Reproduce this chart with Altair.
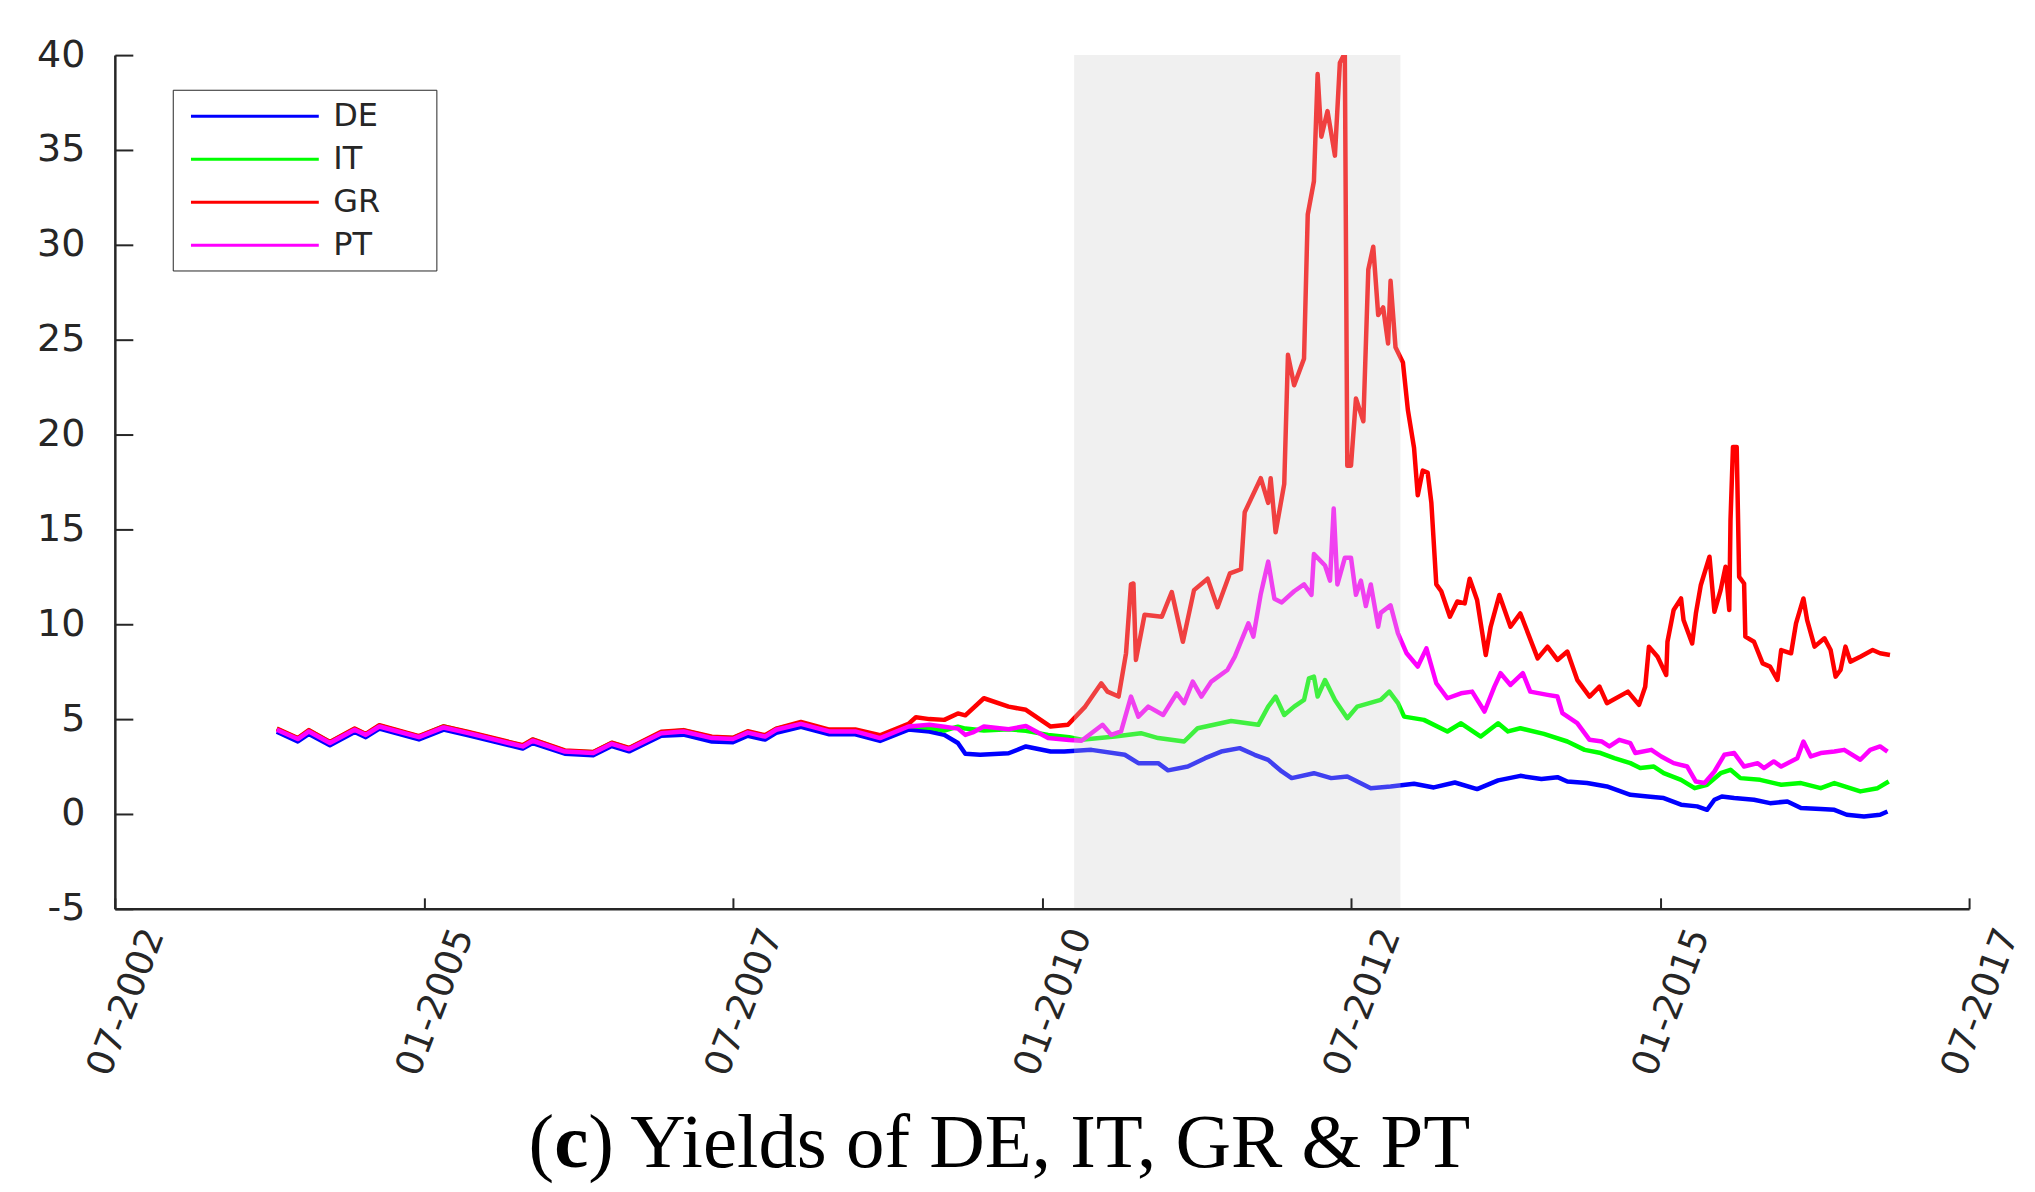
import altair as alt
import pandas as pd

# ---------------- data (decimal year, yield %) ----------------
de = [(2003.81, 4.33), (2003.98, 3.82), (2004.07, 4.22), (2004.24, 3.62), (2004.44, 4.32),
      (2004.53, 4.05), (2004.64, 4.50), (2004.96, 3.93), (2005.16, 4.45), (2005.36, 4.14),
      (2005.80, 3.45), (2005.88, 3.74), (2006.14, 3.18), (2006.37, 3.10), (2006.52, 3.58),
      (2006.66, 3.30), (2006.92, 4.12), (2007.10, 4.18), (2007.33, 3.82), (2007.50, 3.78),
      (2007.62, 4.12), (2007.76, 3.92), (2007.85, 4.28), (2008.05, 4.60), (2008.28, 4.20),
      (2008.49, 4.20), (2008.69, 3.85), (2008.92, 4.45), (2009.09, 4.35), (2009.21, 4.17),
      (2009.32, 3.74), (2009.38, 3.17), (2009.50, 3.12), (2009.73, 3.20), (2009.87, 3.56),
      (2010.07, 3.29), (2010.18, 3.29), (2010.40, 3.38), (2010.67, 3.12), (2010.78, 2.68),
      (2010.94, 2.68), (2011.02, 2.30), (2011.18, 2.50), (2011.32, 2.94), (2011.45, 3.29),
      (2011.60, 3.47), (2011.72, 3.12), (2011.83, 2.85), (2011.94, 2.24), (2012.02, 1.89),
      (2012.20, 2.15), (2012.34, 1.89), (2012.47, 1.98), (2012.66, 1.36), (2012.82, 1.45),
      (2013.01, 1.59), (2013.17, 1.40), (2013.34, 1.66), (2013.52, 1.31), (2013.69, 1.77),
      (2013.87, 2.01), (2014.04, 1.84), (2014.17, 1.94), (2014.25, 1.71), (2014.41, 1.63),
      (2014.57, 1.45), (2014.76, 1.01), (2014.90, 0.92), (2015.03, 0.84), (2015.17, 0.49),
      (2015.30, 0.40), (2015.38, 0.22), (2015.44, 0.75), (2015.50, 0.92), (2015.60, 0.84),
      (2015.76, 0.75), (2015.89, 0.57), (2016.03, 0.66), (2016.14, 0.31), (2016.30, 0.26),
      (2016.41, 0.22), (2016.51, -0.04), (2016.65, -0.13), (2016.78, -0.04), (2016.84, 0.13)]

it = [(2003.81, 4.48), (2003.98, 3.98), (2004.07, 4.40), (2004.24, 3.78), (2004.44, 4.48),
      (2004.53, 4.20), (2004.64, 4.66), (2004.96, 4.08), (2005.16, 4.62), (2005.36, 4.30),
      (2005.80, 3.60), (2005.88, 3.92), (2006.14, 3.32), (2006.37, 3.25), (2006.52, 3.74),
      (2006.66, 3.46), (2006.92, 4.30), (2007.10, 4.40), (2007.33, 4.04), (2007.50, 4.00),
      (2007.62, 4.33), (2007.76, 4.12), (2007.85, 4.48), (2008.05, 4.80), (2008.28, 4.40),
      (2008.49, 4.40), (2008.69, 4.05), (2008.92, 4.65), (2009.09, 4.55), (2009.21, 4.40),
      (2009.32, 4.60), (2009.38, 4.50), (2009.53, 4.40), (2009.73, 4.47), (2009.87, 4.38),
      (2010.05, 4.17), (2010.22, 4.05), (2010.32, 3.91), (2010.59, 4.08), (2010.80, 4.26),
      (2010.94, 4.00), (2011.15, 3.82), (2011.26, 4.52), (2011.53, 4.90), (2011.75, 4.70),
      (2011.83, 5.66), (2011.89, 6.19), (2011.96, 5.22), (2012.04, 5.66), (2012.12, 6.01),
      (2012.16, 7.15), (2012.20, 7.24), (2012.23, 6.19), (2012.29, 7.06), (2012.37, 6.01),
      (2012.47, 5.05), (2012.55, 5.66), (2012.74, 6.01), (2012.81, 6.45), (2012.88, 5.84),
      (2012.93, 5.13), (2013.09, 4.96), (2013.28, 4.35), (2013.39, 4.78), (2013.55, 4.08),
      (2013.69, 4.78), (2013.77, 4.35), (2013.87, 4.52), (2014.06, 4.22), (2014.25, 3.82),
      (2014.39, 3.38), (2014.52, 3.21), (2014.63, 2.94), (2014.76, 2.68), (2014.84, 2.42),
      (2014.95, 2.50), (2015.03, 2.15), (2015.17, 1.80), (2015.28, 1.36), (2015.38, 1.54),
      (2015.49, 2.15), (2015.57, 2.33), (2015.65, 1.89), (2015.81, 1.80), (2015.98, 1.54),
      (2016.14, 1.63), (2016.30, 1.36), (2016.41, 1.63), (2016.62, 1.19), (2016.76, 1.36),
      (2016.85, 1.71)]

gr = [(2003.81, 4.50), (2003.98, 4.00), (2004.07, 4.42), (2004.24, 3.80), (2004.44, 4.50),
      (2004.53, 4.22), (2004.64, 4.68), (2004.96, 4.10), (2005.16, 4.62), (2005.36, 4.32),
      (2005.80, 3.62), (2005.88, 3.93), (2006.14, 3.35), (2006.37, 3.27), (2006.52, 3.76),
      (2006.66, 3.48), (2006.92, 4.33), (2007.10, 4.42), (2007.33, 4.07), (2007.50, 4.02),
      (2007.62, 4.36), (2007.76, 4.15), (2007.85, 4.50), (2008.05, 4.85), (2008.28, 4.45),
      (2008.49, 4.45), (2008.69, 4.15), (2008.92, 4.75), (2008.98, 5.10), (2009.09, 5.00),
      (2009.21, 4.96), (2009.32, 5.30), (2009.38, 5.20), (2009.53, 6.10), (2009.73, 5.66),
      (2009.87, 5.49), (2010.07, 4.61), (2010.21, 4.70), (2010.35, 5.66), (2010.48, 6.89),
      (2010.53, 6.45), (2010.62, 6.19), (2010.68, 8.47), (2010.72, 12.10), (2010.74, 12.15),
      (2010.76, 8.12), (2010.83, 10.50), (2010.97, 10.40), (2011.05, 11.70), (2011.14, 9.08),
      (2011.23, 11.80), (2011.34, 12.40), (2011.42, 10.90), (2011.52, 12.68), (2011.61, 12.90),
      (2011.64, 15.90), (2011.77, 17.70), (2011.83, 16.40), (2011.85, 17.70), (2011.89, 14.85),
      (2011.96, 17.40), (2011.99, 24.20), (2012.04, 22.60), (2012.12, 24.00), (2012.15, 31.60),
      (2012.20, 33.35), (2012.23, 39.00), (2012.26, 35.70), (2012.31, 37.05), (2012.37, 34.70),
      (2012.41, 39.60), (2012.45, 40.10), (2012.47, 18.36), (2012.50, 18.36), (2012.54, 21.90),
      (2012.60, 20.70), (2012.64, 28.70), (2012.68, 29.90), (2012.72, 26.30), (2012.76, 26.70),
      (2012.80, 24.80), (2012.82, 28.10), (2012.86, 24.60), (2012.92, 23.80), (2012.96, 21.30),
      (2013.01, 19.30), (2013.04, 16.80), (2013.08, 18.10), (2013.12, 18.00), (2013.15, 16.40),
      (2013.19, 12.10), (2013.23, 11.74), (2013.30, 10.40), (2013.36, 11.20), (2013.42, 11.10),
      (2013.46, 12.40), (2013.52, 11.28), (2013.59, 8.38), (2013.63, 9.87), (2013.70, 11.54),
      (2013.79, 9.87), (2013.87, 10.57), (2014.01, 8.20), (2014.09, 8.82), (2014.17, 8.12),
      (2014.25, 8.56), (2014.33, 7.07), (2014.43, 6.19), (2014.51, 6.71), (2014.57, 5.84),
      (2014.74, 6.45), (2014.83, 5.75), (2014.88, 6.71), (2014.91, 8.82), (2014.98, 8.29),
      (2015.05, 7.33), (2015.06, 9.08), (2015.11, 10.75), (2015.17, 11.36), (2015.19, 10.22),
      (2015.26, 8.99), (2015.29, 10.57), (2015.33, 12.07), (2015.40, 13.56), (2015.44, 10.66),
      (2015.49, 11.80), (2015.53, 13.03), (2015.56, 10.75), (2015.57, 15.50), (2015.59, 19.35),
      (2015.62, 19.35), (2015.64, 12.50), (2015.68, 12.15), (2015.69, 9.35), (2015.76, 9.08),
      (2015.83, 7.94), (2015.89, 7.77), (2015.95, 7.07), (2015.98, 8.64), (2016.06, 8.47),
      (2016.10, 10.05), (2016.16, 11.36), (2016.19, 10.22), (2016.25, 8.82), (2016.33, 9.26),
      (2016.38, 8.64), (2016.42, 7.24), (2016.46, 7.59), (2016.50, 8.82), (2016.54, 8.03),
      (2016.62, 8.29), (2016.72, 8.64), (2016.78, 8.47), (2016.86, 8.38)]

pt = [(2003.81, 4.44), (2003.98, 3.95), (2004.07, 4.35), (2004.24, 3.74), (2004.44, 4.44),
      (2004.53, 4.17), (2004.64, 4.61), (2004.96, 4.05), (2005.16, 4.56), (2005.36, 4.26),
      (2005.80, 3.56), (2005.88, 3.86), (2006.14, 3.29), (2006.37, 3.21), (2006.52, 3.70),
      (2006.66, 3.42), (2006.92, 4.26), (2007.10, 4.35), (2007.33, 4.00), (2007.50, 3.95),
      (2007.62, 4.29), (2007.76, 4.08), (2007.85, 4.44), (2008.05, 4.75), (2008.28, 4.35),
      (2008.49, 4.35), (2008.69, 4.00), (2008.92, 4.61), (2009.09, 4.70), (2009.21, 4.60),
      (2009.32, 4.50), (2009.38, 4.17), (2009.44, 4.30), (2009.53, 4.61), (2009.73, 4.47),
      (2009.87, 4.64), (2010.05, 4.00), (2010.22, 3.90), (2010.32, 3.86), (2010.49, 4.70),
      (2010.56, 4.17), (2010.64, 4.35), (2010.72, 6.19), (2010.78, 5.13), (2010.86, 5.66),
      (2010.98, 5.22), (2011.09, 6.36), (2011.15, 5.84), (2011.22, 6.98), (2011.29, 6.19),
      (2011.37, 6.98), (2011.50, 7.59), (2011.56, 8.29), (2011.67, 10.05), (2011.71, 9.35),
      (2011.77, 11.60), (2011.83, 13.30), (2011.88, 11.35), (2011.94, 11.15), (2012.04, 11.74),
      (2012.12, 12.10), (2012.18, 11.55), (2012.20, 13.70), (2012.29, 13.10), (2012.33, 12.30),
      (2012.36, 16.10), (2012.39, 12.10), (2012.45, 13.50), (2012.50, 13.50), (2012.54, 11.55),
      (2012.58, 12.30), (2012.62, 10.96), (2012.66, 12.10), (2012.72, 9.87), (2012.74, 10.60),
      (2012.82, 11.00), (2012.88, 9.52), (2012.95, 8.47), (2013.04, 7.77), (2013.11, 8.73),
      (2013.19, 6.89), (2013.28, 6.10), (2013.39, 6.36), (2013.48, 6.45), (2013.58, 5.40),
      (2013.66, 6.71), (2013.71, 7.42), (2013.79, 6.80), (2013.89, 7.42), (2013.95, 6.45),
      (2014.09, 6.28), (2014.17, 6.19), (2014.21, 5.31), (2014.33, 4.79), (2014.43, 3.91),
      (2014.53, 3.82), (2014.59, 3.56), (2014.67, 3.91), (2014.76, 3.73), (2014.80, 3.21),
      (2014.93, 3.38), (2015.01, 3.03), (2015.11, 2.68), (2015.22, 2.50), (2015.29, 1.71),
      (2015.36, 1.63), (2015.44, 2.24), (2015.52, 3.12), (2015.60, 3.21), (2015.68, 2.50),
      (2015.79, 2.68), (2015.84, 2.42), (2015.92, 2.77), (2015.98, 2.50), (2016.11, 2.94),
      (2016.16, 3.82), (2016.22, 3.03), (2016.30, 3.21), (2016.41, 3.29), (2016.49, 3.38),
      (2016.62, 2.86), (2016.70, 3.38), (2016.78, 3.56), (2016.84, 3.29)]

countries = ["DE", "IT", "GR", "PT"]
colors = ["#0000ff", "#00ff00", "#ff0000", "#ff00ff"]

x_ticks = [2002.5, 2005.0, 2007.5, 2010.0, 2012.5, 2015.0, 2017.5]
x_tick_labels = ["07-2002", "01-2005", "07-2007", "01-2010", "07-2012", "01-2015", "07-2017"]
y_ticks = [-5, 0, 5, 10, 15, 20, 25, 30, 35, 40]

shade_start = [2010.26]
shade_end = [2012.90]
shade_low = [-5]
shade_high = [40]

caption_parts = ["(", "c", ") Yields of DE, IT, GR & PT"]

# ---------------- tables ----------------
rows = []
for name, series in zip(countries, [de, it, gr, pt]):
    for t, v in series:
        rows.append({"country": name, "year": t, "yield": v})
df = pd.DataFrame(rows)

shade_df = pd.DataFrame({"start": shade_start, "end": shade_end,
                         "low": shade_low, "high": shade_high})

W, H = 1857, 855
INK = "#262626"

xscale = alt.Scale(domain=[x_ticks[0], x_ticks[-1]], nice=False, zero=False)
yscale = alt.Scale(domain=[y_ticks[0], y_ticks[-1]], nice=False, zero=False)

label_expr = " : ".join(
    f"datum.value == {v} ? '{lab}'" for v, lab in zip(x_ticks, x_tick_labels)
) + " : ''"

lines = alt.Chart(df).mark_line(strokeWidth=4.5, clip=True, strokeJoin="round").encode(
    x=alt.X("year:Q", scale=xscale,
            axis=alt.Axis(orient="bottom", values=x_ticks, labelExpr=label_expr,
                          labelAngle=-69, labelAlign="right", labelBaseline="middle",
                          labelPadding=21, labelOffset=39, labelFlush=False,
                          labelOverlap=False, ticks=False, tickSize=0, grid=False,
                          title=None, labelFont="DejaVu Sans", labelFontSize=37,
                          labelColor=INK, domainColor=INK, domainWidth=2.5, zindex=1)),
    y=alt.Y("yield:Q", scale=yscale,
            axis=alt.Axis(orient="left", values=y_ticks, labelExpr="'' + datum.value",
                          labelPadding=30, labelFlush=False, labelOverlap=False,
                          ticks=False, tickSize=0, grid=False, title=None,
                          labelFont="DejaVu Sans", labelFontSize=38, labelColor=INK,
                          domainColor=INK, domainWidth=2.5, zindex=1)),
    color=alt.Color("country:N",
                    scale=alt.Scale(domain=countries, range=colors),
                    legend=alt.Legend(title=None, orient="none", legendX=58, legendY=34.7,
                                      symbolType="M-4,0L4,0", symbolSize=1024,
                                      symbolStrokeWidth=3, symbolOffset=55.75,
                                      labelOffset=61, labelFont="DejaVu Sans",
                                      labelFontSize=32, labelColor=INK,
                                      rowPadding=9.1, padding=9,
                                      strokeColor=INK, fillColor="white",
                                      labelExpr="datum.label + '\u2800\u2800'")),
    order=alt.Order("year:Q"),
)

shade = alt.Chart(shade_df).mark_rect(color="#cecece", opacity=0.31).encode(
    x=alt.X("start:Q", scale=xscale,
            axis=alt.Axis(orient="top", offset=-H, values=x_ticks, labels=False,
                          domain=False, ticks=True, tickSize=11, tickWidth=2,
                          tickColor=INK, grid=False, title=None, zindex=1)),
    x2="end:Q",
    y=alt.Y("low:Q", scale=yscale,
            axis=alt.Axis(orient="right", offset=-W, values=y_ticks, labels=False,
                          domain=False, ticks=True, tickSize=18, tickWidth=2,
                          tickColor=INK, grid=False, title=None, zindex=1)),
    y2="high:Q",
)

cap_font = "Liberation Serif"
cap_size = 77
cap_x0 = 440
cap_y = 1114
cap1 = alt.Chart(pd.DataFrame({"t": [caption_parts[0]]})).mark_text(
    font=cap_font, fontSize=cap_size, align="right", baseline="alphabetic", color="black"
).encode(text="t:N", x=alt.value(cap_x0), y=alt.value(cap_y))
cap2 = alt.Chart(pd.DataFrame({"t": [caption_parts[1]]})).mark_text(
    font=cap_font, fontSize=cap_size, fontWeight="bold", align="left",
    baseline="alphabetic", color="black"
).encode(text="t:N", x=alt.value(cap_x0), y=alt.value(cap_y))
cap3 = alt.Chart(pd.DataFrame({"t": [caption_parts[2]]})).mark_text(
    font=cap_font, fontSize=cap_size, align="left", baseline="alphabetic", color="black"
).encode(text="t:N", x=alt.value(cap_x0 + 0.444 * cap_size), y=alt.value(cap_y))

chart = alt.layer(lines, shade, cap1, cap2, cap3).resolve_axis(
    x="independent", y="independent"
).properties(
    width=W, height=H,
    padding={"left": 107, "top": 46.3, "right": 58, "bottom": 278},
    autosize=alt.AutoSizeParams(type="none"),
    background="white",
).configure_view(strokeWidth=0)

chart.save("out.html", embed_options={"renderer": "svg", "actions": False})
